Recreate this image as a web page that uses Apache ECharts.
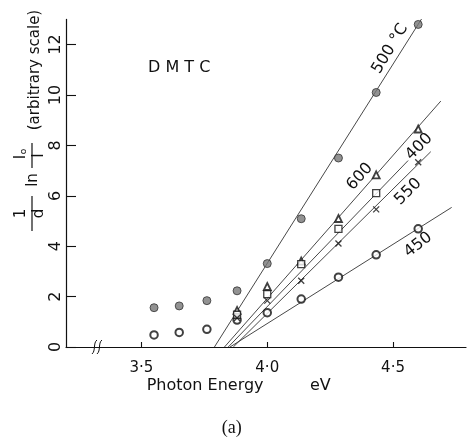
<!DOCTYPE html>
<html><head><meta charset="utf-8">
<script src="https://cdn.jsdelivr.net/npm/echarts@6/dist/echarts.min.js"></script>
<style>html,body{margin:0;padding:0;background:#fff;} #c{width:469px;height:441px;}</style>
</head><body><div id="c"></div>
<script>
// ---- data ----
const energy = [3.55, 3.65, 3.76, 3.88, 4.00, 4.135, 4.283, 4.433, 4.60];
const s500 = [1.56, 1.63, 1.84, 2.23, 3.31, 5.09, 7.50, 10.10, 12.80];
const s450 = [0.48, 0.58, 0.70, 1.07, 1.36, 1.90, 2.77, 3.66, 4.69];
const s600 = [null, null, null, 1.45, 2.40, 3.41, 5.10, 6.83, 8.65];
const s400 = [null, null, null, 1.28, 2.10, 3.29, 4.69, 6.11, null];
const s550 = [null, null, null, 1.15, 1.84, 2.63, 4.11, 5.46, 7.33];

const fit500 = [[3.79, 0], [4.647, 13.55]];
const fit600 = [[3.83, 0], [4.69, 9.76]];
const fit400 = [[3.845, 0], [4.56, 7.40]];
const fit550 = [[3.865, 0], [4.65, 7.75]];
const fit450 = [[3.852, 0], [4.733, 5.54]];

const xTicks = [3.5, 4.0, 4.5];
const xTickLabels = ['3·5', '4·0', '4·5'];
const yTicks = [0, 2, 4, 6, 8, 10, 12];

const curveLabels = [
  { text: '500 °C', at: [4.488, 11.83], rot: 59 },
  { text: '600', at: [4.368, 6.76], rot: 48 },
  { text: '400', at: [4.604, 7.95], rot: 45 },
  { text: '550', at: [4.56, 6.16], rot: 45 },
  { text: '450', at: [4.60, 4.05], rot: 38 },
  { text: 'D M T C', at: [3.65, 11.09], rot: 0 }
];
const breakAt = 3.325;

// ---- chart ----
const FONT = '"DejaVu Sans", sans-serif';
const chart = echarts.init(document.getElementById('c'), null, { renderer: 'canvas' });
const pts = s => energy.map((e, i) => [e, s[i]]).filter(p => p[1] != null);
const lineSeries = d => ({
  type: 'line', data: d, symbol: 'none', silent: true, z: 1,
  lineStyle: { color: '#333', width: 0.9 }, animation: false
});
const ink = '#111';
chart.setOption({
  animation: false,
  grid: { left: 66, top: 19.4, width: 400, height: 327.6, containLabel: false, outerBoundsMode: 'none' },
  xAxis: {
    type: 'value', min: 3.2, max: 4.79,
    splitLine: { show: false },
    axisLine: { lineStyle: { color: ink, width: 1.2 } },
    axisTick: { inside: true, length: 5, customValues: xTicks, lineStyle: { color: ink, width: 1.1 } },
    axisLabel: {
      customValues: xTicks, margin: 14, color: ink, fontSize: 15, fontFamily: FONT,
      formatter: v => xTickLabels[xTicks.findIndex(t => Math.abs(t - v) < 1e-6)]
    }
  },
  yAxis: {
    type: 'value', min: 0, max: 13,
    splitLine: { show: false },
    axisLine: { show: true, lineStyle: { color: ink, width: 1.2 } },
    axisTick: { show: true, inside: true, length: 10, customValues: yTicks, lineStyle: { color: ink, width: 1.1 } },
    axisLabel: { customValues: yTicks, rotate: 90, margin: 2, color: ink, fontSize: 16, fontFamily: FONT }
  },
  series: [
    lineSeries(fit500), lineSeries(fit600), lineSeries(fit400), lineSeries(fit550), lineSeries(fit450),
    { type: 'scatter', data: pts(s500), symbol: 'circle', symbolSize: 8, z: 3,
      itemStyle: { color: '#777', borderColor: '#333', borderWidth: 1 } },
    { type: 'scatter', data: pts(s450), symbol: 'circle', symbolSize: 7.5, z: 3,
      itemStyle: { color: '#fff', borderColor: ink, borderWidth: 2 } },
    { type: 'scatter', data: pts(s600), symbol: 'triangle', symbolSize: 7, z: 3,
      itemStyle: { color: '#fff', borderColor: ink, borderWidth: 1.8 } },
    { type: 'scatter', data: pts(s400), symbol: 'rect', symbolSize: 7, z: 3,
      itemStyle: { color: '#fff', borderColor: ink, borderWidth: 1.3 } },
    { type: 'scatter', data: pts(s550), symbol: 'path://M0,0L10,10M10,0L0,10', symbolSize: 6, z: 3,
      itemStyle: { color: ink, borderColor: ink, borderWidth: 1.3 } }
  ]
});

// ---- annotations ----
const g = [];
curveLabels.forEach(l => {
  const p = chart.convertToPixel({ gridIndex: 0 }, l.at);
  g.push({ type: 'text', x: p[0], y: p[1], rotation: l.rot * Math.PI / 180, z: 10,
    style: { text: l.text, font: '16px ' + FONT, fill: ink, align: 'center', verticalAlign: 'middle' } });
});
const b = chart.convertToPixel({ gridIndex: 0 }, [breakAt, 0]);
[-2.5, 2.5].forEach(dx => {
  const cx = b[0] + dx, cy = b[1];
  g.push({ type: 'bezierCurve', z: 10,
    shape: { x1: cx - 3, y1: cy + 7, x2: cx + 2, y2: cy - 7, cpx1: cx + 1, cpy1: cy + 4, cpx2: cx - 2, cpy2: cy - 4 },
    style: { stroke: ink, lineWidth: 1, fill: null } });
});
// axis titles
g.push({ type: 'text', x: 146.7, y: 386, style: { text: 'Photon Energy', font: '16px ' + FONT, fill: ink, align: 'left', verticalAlign: 'middle' } });
g.push({ type: 'text', x: 310, y: 386, style: { text: 'eV', font: '16px ' + FONT, fill: ink, align: 'left', verticalAlign: 'middle' } });
g.push({ type: 'text', x: 231.7, y: 428, style: { text: '(a)', font: '18px "Liberation Serif", serif', fill: ink, align: 'center', verticalAlign: 'middle' } });
const tf = '15px ' + FONT;
const T = (t, x, y, f) => ({ type: 'text', x: x, y: y, style: { text: t, font: f || tf, fill: ink, align: 'center', verticalAlign: 'middle' } });
g.push({ type: 'group', x: 32, y: 347, rotation: Math.PI / 2, children: [
  T('1', 133.5, -11),
  { type: 'line', shape: { x1: 116, y1: 0, x2: 151, y2: 0 }, style: { stroke: ink, lineWidth: 1.2 } },
  T('d', 133.5, 7),
  T('ln', 167, 1),
  T('I', 190, -11),
  T('o', 195.5, -8, '9px ' + FONT),
  { type: 'line', shape: { x1: 179, y1: 0, x2: 204, y2: 0 }, style: { stroke: ink, lineWidth: 1.2 } },
  T('I', 191.5, 7),
  T('(arbitrary scale)', 277, 3, '15px ' + FONT)
] });
chart.setOption({ graphic: g });
</script></body></html>
